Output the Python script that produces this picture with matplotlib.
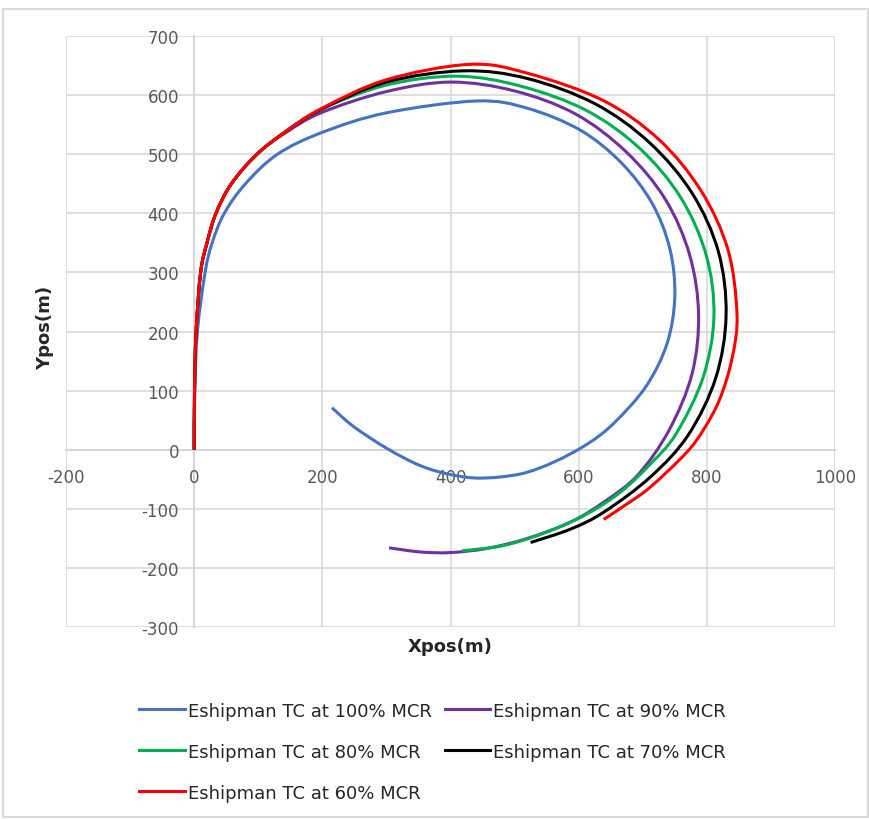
import matplotlib.pyplot as plt
from matplotlib.patches import Rectangle, PathPatch
from matplotlib.path import Path
from matplotlib.lines import Line2D

# turning circle tracks, x / y position in metres
x_100 = [0, 1, 5, 17, 28, 47, 80, 130, 200, 300, 440, 519, 602, 666, 714, 742, 750, 738, 705, 655, 614, 561, 509, 447, 400, 353, 301, 249, 215]
y_100 = [0, 100, 200, 300, 350, 400, 450, 500, 537, 570, 590, 578, 541, 486, 418, 341, 260, 180, 107, 45, 10, -21, -41, -48, -42, -27, 2, 39, 71]

x_90 = [0, 0.5, 3, 10, 20, 34, 58, 98, 145, 200, 300, 400, 500, 595, 674, 735, 773, 787, 777, 741, 692, 640, 588, 520, 457, 400, 353, 304]
y_90 = [0, 100, 200, 300, 350, 400, 450, 500, 538, 571, 606, 622, 607, 568, 504, 424, 330, 230, 129, 33, -43, -88, -122, -150, -167, -174, -173, -166]

x_80 = [0, 0.5, 3, 10, 20, 34, 58, 98, 145, 200, 300, 410, 510, 612, 695, 759, 799, 811, 794, 752, 712, 666, 614, 551, 483, 418]
y_80 = [0, 100, 200, 300, 350, 400, 450, 500, 540, 577, 617, 632, 615, 574, 510, 427, 329, 225, 122, 27, -24, -71, -108, -139, -162, -171]

x_70 = [0, 0.5, 3, 10, 20, 34, 58, 98, 145, 200, 300, 420, 520, 626, 711, 777, 818, 830, 814, 771, 712, 640, 588, 525]
y_70 = [0, 100, 200, 300, 350, 400, 450, 500, 540, 577, 622, 641, 628, 585, 519, 434, 335, 228, 122, 25, -46, -105, -134, -157]

x_60 = [0, 0.5, 3, 10, 20, 34, 58, 98, 145, 200, 300, 430, 520, 638, 725, 791, 833, 847, 840, 821, 796, 768, 712, 675, 639]
y_60 = [0, 100, 200, 300, 350, 400, 450, 500, 540, 578, 626, 652, 637, 591, 525, 438, 338, 230, 158, 88, 36, -5, -63, -92, -118]

labels = ['Eshipman TC at 100% MCR', 'Eshipman TC at 90% MCR', 'Eshipman TC at 80% MCR',
          'Eshipman TC at 70% MCR', 'Eshipman TC at 60% MCR']
colors = ['#4472C4', '#7030A0', '#00B050', '#000000', '#FF0000']

xticks = [-200, 0, 200, 400, 600, 800, 1000]
yticks = [-300, -200, -100, 0, 100, 200, 300, 400, 500, 600, 700]


def smooth_path(xs, ys):
    # Excel-style smoothed line: cubic Bezier segments through every point
    pts = list(zip(xs, ys))
    n = len(pts)
    verts = [pts[0]]
    codes = [Path.MOVETO]
    for i in range(n - 1):
        p0 = pts[max(i - 1, 0)]
        p1 = pts[i]
        p2 = pts[i + 1]
        p3 = pts[min(i + 2, n - 1)]
        c1 = (p1[0] + (p2[0] - p0[0]) / 6, p1[1] + (p2[1] - p0[1]) / 6)
        c2 = (p2[0] - (p3[0] - p1[0]) / 6, p2[1] - (p3[1] - p1[1]) / 6)
        verts += [c1, c2, p2]
        codes += [Path.CURVE4] * 3
    return Path(verts, codes)


plt.rcParams['axes.unicode_minus'] = False
plt.rcParams['font.family'] = 'DejaVu Sans'

fig = plt.figure(figsize=(8.7, 8.2), dpi=100)
ax = fig.add_axes([0.0759, 0.2341, 0.8839, 0.7208])

handles = []
series = zip([x_100, x_90, x_80, x_70, x_60], [y_100, y_90, y_80, y_70, y_60], colors)
for xs, ys, c in series:
    ax.add_patch(PathPatch(smooth_path(xs, ys), facecolor='none', edgecolor=c,
                           lw=2.2, capstyle='butt', zorder=3))
    handles.append(Line2D([], [], color=c, lw=2.2))

ax.set_xlim(-200, 1000)
ax.set_ylim(-300, 700)
ax.set_xticks(xticks)
ax.set_yticks(yticks)
ax.grid(True, color='#D9D9D9', lw=1.2)
ax.set_axisbelow(True)

for s in ['top', 'right']:
    ax.spines[s].set_visible(False)
for s in ['left', 'bottom']:
    ax.spines[s].set_position(('data', 0))
    ax.spines[s].set_color('#BFBFBF')
    ax.spines[s].set_linewidth(1.2)
    ax.spines[s].set_zorder(0.5)
ax.tick_params(axis='both', length=0, labelsize=12, labelcolor='#595959')
ax.tick_params(axis='y', pad=11)
ax.tick_params(axis='x', pad=13)

fig.text(0.517, 0.211, 'Xpos(m)', ha='center', va='center', fontsize=13,
         fontweight='bold', color='#262626')
fig.text(0.052, 0.6, 'Ypos(m)', ha='center', va='center', rotation=90,
         fontsize=13, fontweight='bold', color='#262626')

# legend filled row by row: 100 / 90, 80 / 70, 60
order = [0, 2, 4, 1, 3]
fig.legend([handles[i] for i in order], [labels[i] for i in order], ncol=2,
           loc='upper left', bbox_to_anchor=(0.152, 0.152), frameon=False,
           fontsize=13, handlelength=2.5, handletextpad=0.17,
           columnspacing=0.75, labelspacing=1.28, borderaxespad=0,
           labelcolor='#262626')

fig.patches.append(Rectangle((0.004, 0.003), 0.994, 0.985, transform=fig.transFigure,
                             fill=False, edgecolor='#D9D9D9', lw=1.5))

fig.savefig('out.png', dpi=100)
